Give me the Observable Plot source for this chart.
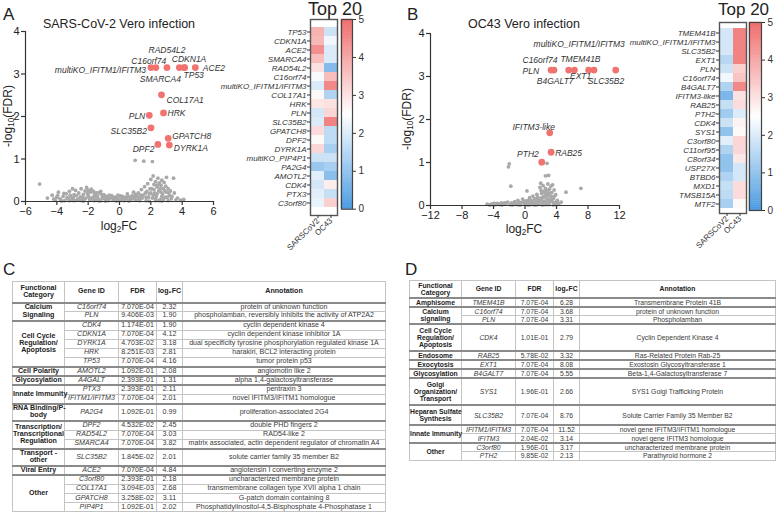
<!DOCTYPE html>
<html><head><meta charset="utf-8">
<script src="https://cdn.jsdelivr.net/npm/d3@7"></script>
<script src="https://cdn.jsdelivr.net/npm/@observablehq/plot@0.6"></script>
<style>
html,body{margin:0;padding:0;background:#fff}
body{width:778px;height:515px;position:relative;overflow:hidden;font-family:"Liberation Sans",Arial,sans-serif;color:#222}
.abs{position:absolute}
.panel{font-size:17px;line-height:1}
.title{font-size:12.5px;white-space:nowrap;transform:translateX(-50%);line-height:1}
.ylab{font-size:12px;white-space:nowrap;transform:translate(-50%,-50%) rotate(-90deg);line-height:1}
.xlab{font-size:12px;white-space:nowrap;transform:translate(-50%,-50%);line-height:1}
sub{font-size:0.68em;vertical-align:-0.3em;line-height:0}
.top20{font-size:18px;white-space:nowrap;line-height:1}
svg{overflow:visible}
.hm g[aria-label="y-axis tick label"] text{font-style:italic}
table.t{position:absolute;border-collapse:collapse;table-layout:fixed;color:#3a3a3a;border:1px solid #9a9a9a}
table.t td{border:1px solid #c4c4c4;padding:0;text-align:center;overflow:visible;white-space:pre}
table.t tr.hd td{font-weight:bold;color:#222;border-bottom:2px solid #8a8a8a}
table.t tr.grp td{border-top:2px solid #8a8a8a}
table.t td.cat{font-weight:bold;color:#222}
table.t td.gene{font-style:italic}
</style>
</head><body>
<script>
// ---------- Table C (SARS-CoV-2) ----------
const catC = ["Calcium\nSignaling","Calcium\nSignaling","Cell Cycle\nRegulation/\nApoptosis","Cell Cycle\nRegulation/\nApoptosis","Cell Cycle\nRegulation/\nApoptosis","Cell Cycle\nRegulation/\nApoptosis","Cell Cycle\nRegulation/\nApoptosis","Cell Polarity","Glycosylation","Innate Immunity","Innate Immunity","RNA Binding/P-\nbody","Transcription/\nTranscriptional\nRegulation","Transcription/\nTranscriptional\nRegulation","Transcription/\nTranscriptional\nRegulation","Transport -\nother","Viral Entry","Other","Other","Other","Other"];
const geneC = ["C16orf74","PLN","CDK4","CDKN1A","DYRK1A","HRK","TP53","AMOTL2","A4GALT","PTX3","IFITM1/IFITM3","PA2G4","DPF2","RAD54L2","SMARCA4","SLC35B2","ACE2","C3orf80","COL17A1","GPATCH8","PIP4P1"];
const fdrC = ["7.070E-04","9.406E-03","1.174E-01","7.070E-04","4.703E-02","8.251E-03","7.070E-04","1.092E-01","2.393E-01","2.393E-01","7.070E-04","1.092E-01","4.532E-02","7.070E-04","7.070E-04","1.845E-02","7.070E-04","2.393E-01","3.094E-03","3.258E-02","1.092E-01"];
const lfcC = ["2.32","1.90","1.90","4.12","3.18","2.81","4.16","2.08","1.31","2.11","2.01","0.99","2.45","3.03","3.82","2.01","4.84","2.18","2.68","3.11","2.02"];
const annC = ["protein of unknown function","phospholamban, reversibly inhibits the activity of ATP2A2","cyclin dependent kinase 4","cyclin dependent kinase inhibitor 1A","dual specificity tyrosine phosphorylation regulated kinase 1A","harakiri, BCL2 interacting protein","tumor protein p53","angiomotin like 2","alpha 1,4-galactosyltransferase","pentraxin 3","novel IFITM3/IFITM1 homologue","proliferation-associated 2G4","double PHD fingers 2","RAD54-like 2","matrix associated, actin dependent regulator of chromatin A4","solute carrier family 35 member B2","angiotensin I converting enzyme 2","uncharacterized membrane protein","transmembrane collagen type XVII alpha 1 chain","G-patch domain containing 8","Phosphatidylinositol-4,5-Bisphosphate 4-Phosphatase 1"];

// ---------- Table D (OC43) ----------
const catD = ["Amphisome","Calcium\nsignaling","Calcium\nsignaling","Cell Cycle\nRegulation/\nApoptosis","Endosome","Exocytosis","Glycosylation","Golgi\nOrganization/\nTransport","Heparan Sulfate\nSynthesis","Innate Immunity","Innate Immunity","Other","Other"];
const geneD = ["TMEM41B","C16orf74","PLN","CDK4","RAB25","EXT1","B4GALT7","SYS1","SLC35B2","IFITM1/IFITM3","IFITM3","C3orf80","PTH2"];
const fdrD = ["7.07E-04","7.07E-04","7.07E-04","1.01E-01","5.78E-02","7.07E-04","7.07E-04","1.96E-01","7.07E-04","7.07E-04","2.04E-02","1.96E-01","9.85E-02"];
const lfcD = ["6.28","3.68","3.31","2.79","3.32","8.08","5.55","2.66","8.76","11.52","3.14","3.17","2.13"];
const annD = ["Transmembrane Protein 41B","protein of unknown function","Phospholamban","Cyclin Dependent Kinase 4","Ras-Related Protein Rab-25","Exostosin Glycosyltransferase 1","Beta-1,4-Galactosyltransferase 7","SYS1 Golgi Trafficking Protein","Solute Carrier Family 35 Member B2","novel gene IFITM3/IFITM1 homologue","novel gene IFITM3 homologue","uncharacterized membrane protein","Parathyroid hormone 2"];

const headers = ["Functional\nCategory","Gene ID","FDR","log₂FC","Annotation"];
const volcanoAlias = {"IFITM1/IFITM3":"multiKO_IFITM1/IFITM3","IFITM3":"IFITM3-like"};

// ---------- Volcano background (non-significant genes) ----------
const backgroundA = [[-5.1,0.41],[-4.6,0.08],[-4.3,0.15],[-4.1,0.03],[-3.9,0.22],[-3.8,0.06],[-3.6,0.12],[-3.5,0.02],[-3.4,0.18],[-3.3,0.07],[-3.2,0.24],[-3.1,0.1],[-3.0,0.03],[-2.9,0.16],[-2.8,0.26],[-2.7,0.05],[-2.6,0.2],[-2.5,0.11],[-2.45,0.3],[-2.4,0.02],[-2.3,0.17],[-2.2,0.25],[-2.15,0.08],[-2.1,0.33],[-2.0,0.14],[-1.9,0.04],[-1.85,0.22],[-1.8,0.29],[-1.7,0.1],[-1.6,0.18],[-1.5,0.05],[-1.4,0.13],[-1.3,0.21],[-1.2,0.02],[-1.1,0.09],[-1.0,0.16],[-0.9,0.05],[-0.8,0.12],[-0.7,0.02],[-0.6,0.08],[-0.5,0.14],[-0.4,0.03],[-0.3,0.1],[-0.2,0.06],[-0.1,0.15],[0.0,0.02],[0.1,0.08],[0.2,0.12],[0.3,0.04],[0.4,0.1],[0.5,0.18],[0.6,0.03],[0.7,0.09],[0.8,0.14],[0.9,0.22],[1.0,0.05],[1.0,0.97],[1.1,0.12],[1.2,0.2],[1.3,0.07],[1.4,0.28],[1.5,0.15],[1.55,0.95],[1.6,0.35],[1.7,0.1],[1.75,0.24],[1.8,0.42],[1.9,0.18],[2.0,0.52],[2.05,0.3],[2.1,0.94],[2.1,0.08],[2.15,0.6],[2.2,0.4],[2.25,0.2],[2.3,0.47],[2.35,0.12],[2.4,0.34],[2.45,0.55],[2.5,0.25],[2.55,0.44],[2.6,0.05],[2.65,0.38],[2.7,0.5],[2.75,0.18],[2.8,0.3],[2.85,0.45],[2.9,0.1],[2.95,0.36],[3.0,0.22],[3.0,0.57],[3.1,0.3],[3.2,0.14],[3.3,0.06],[3.45,0.55],[3.5,0.2],[3.7,0.08],[3.9,0.03],[4.1,0.05],[-3.7,0.01],[-2.9,0.02],[-2.3,0.01],[-1.6,0.02],[-0.9,0.01],[-0.2,0.01],[0.6,0.01],[1.3,0.02],[1.9,0.01],[2.5,0.02],[-4.0,0.1],[-3.2,0.02],[-2.6,0.04],[-1.3,0.01],[0.3,0.02],[-3.0,0.3],[-2.0,0.27],[-1.2,0.24],[1.7,0.02],[2.3,0.02],[2.7,0.01],[3.1,0.02],
  [-4.2,0.06],[-3.95,0.14],[-3.75,0.04],[-3.55,0.19],[-3.35,0.09],[-3.15,0.15],[-2.95,0.09],[-2.75,0.14],[-2.55,0.07],[-2.35,0.1],[-2.25,0.05],[-2.05,0.2],[-1.95,0.1],[-1.75,0.06],[-1.65,0.24],[-1.55,0.12],[-1.45,0.2],[-1.35,0.06],[-1.15,0.17],[-1.05,0.08],[-0.95,0.13],[-0.75,0.07],[-0.65,0.15],[-0.45,0.09],[-0.35,0.05],[-0.15,0.11],[-0.05,0.04],[0.05,0.13],[0.15,0.05],[0.25,0.09],[0.45,0.06],[0.55,0.12],[0.75,0.05],[0.85,0.08],[0.95,0.12],[1.05,0.16],[1.15,0.04],[1.25,0.1],[1.35,0.15],[1.45,0.08],[1.65,0.2],[1.85,0.1],[1.95,0.3],[2.0,0.2],[2.15,0.15],[2.2,0.28],[2.3,0.07],[2.4,0.18],[2.5,0.4],[2.6,0.3],[2.7,0.12],[2.8,0.05],[2.9,0.25],[3.05,0.1],[3.15,0.2],[3.25,0.25],[3.35,0.12],[3.6,0.04],[2.35,0.38],[2.65,0.22]];
const backgroundB = [[-4.8,0.03],[-4.5,0.01],[-4.2,0.04],[-3.8,0.02],[-3.5,0.05],[-3.2,0.02],[-3.0,0.06],[-2.7,0.03],[-2.4,0.05],[-2.2,0.08],[-2.1,0.9],[-2.0,0.97],[-1.9,0.02],[-1.8,0.45],[-1.7,0.06],[-1.5,0.03],[-1.3,0.09],[-1.1,0.04],[-0.9,0.12],[-0.7,0.02],[-0.5,0.07],[-0.3,0.15],[-0.1,0.04],[0.0,0.1],[0.2,0.02],[0.25,0.34],[0.35,0.12],[0.5,0.06],[0.6,0.18],[0.8,0.03],[0.9,0.1],[1.0,0.22],[1.1,0.05],[1.3,0.14],[1.4,0.02],[1.5,0.26],[1.6,0.09],[1.7,0.17],[1.8,0.04],[1.9,0.42],[2.0,0.52],[2.0,0.12],[2.1,0.28],[2.2,0.06],[2.3,0.46],[2.35,0.2],[2.4,0.33],[2.5,0.1],[2.6,0.69],[2.6,0.4],[2.7,0.24],[2.8,0.98],[2.8,0.15],[2.9,0.5],[2.95,0.3],[3.0,0.7],[3.05,0.06],[3.1,0.38],[3.2,0.22],[3.3,0.45],[3.35,0.1],[3.4,0.3],[3.5,0.48],[3.6,0.16],[3.7,0.36],[3.8,0.05],[3.9,0.25],[4.1,0.12],[4.3,0.04],[4.6,0.08],[5.2,0.31],[7.1,0.4],[-4.0,0.01],[-2.9,0.01],[-1.6,0.01],[-0.6,0.01],[0.4,0.01],[1.2,0.01],[2.2,0.01],[3.0,0.02],[3.6,0.01],[4.0,0.02],[1.5,0.02],[2.6,0.02],[0.7,0.02],[-1.0,0.02],
  [-4.4,0.02],[-3.9,0.05],[-3.3,0.03],[-2.6,0.06],[-1.4,0.05],[-0.8,0.06],[-0.2,0.08],[0.1,0.05],[0.45,0.09],[0.7,0.12],[1.0,0.08],[1.2,0.16],[1.35,0.06],[1.6,0.2],[1.75,0.08],[1.9,0.15],[2.05,0.35],[2.15,0.18],[2.25,0.1],[2.45,0.2],[2.55,0.28],[2.65,0.08],[2.75,0.35],[2.85,0.22],[3.0,0.12],[3.15,0.28],[3.25,0.14],[3.45,0.2],[3.55,0.08],[3.75,0.22],[3.95,0.08],[4.2,0.06]];

// ---------- Heatmaps (Top 20) ----------
const viruses = ["SARSCoV2","OC43"];
const genesHA = ["TP53","CDKN1A","ACE2","SMARCA4","RAD54L2","C16orf74","multiKO_IFITM1/IFITM3","COL17A1","HRK","PLN","SLC35B2","GPATCH8","DPF2","DYRK1A","multiKO_PIP4P1","PA2G4","AMOTL2","CDK4","PTX3","C3orf80"];
const sarsHA = [3.8,3.7,4.4,3.6,3.0,2.4,2.0,2.6,2.9,1.9,2.0,3.1,2.6,3.2,1.8,1.1,2.1,1.9,2.1,2.2];
const oc43HA = [1.8,2.3,2.0,2.0,0.8,3.6,4.5,1.4,3.0,3.2,4.6,1.6,1.6,1.3,1.8,1.3,0.9,2.8,1.7,3.3];
const genesHB = ["TMEM41B","multiKO_IFITM1/IFITM3","SLC35B2","EXT1","PLN","C16orf74","B4GALT7","IFITM3-like","RAB25","PTH2","CDK4","SYS1","C3orf80","C11orf95","C8orf34","USP27X","BTBD6","MXD1","TMSB15A","MTF2"];
const sarsHB = [1.9,1.9,1.9,1.5,1.8,2.3,1.4,0.7,1.7,1.2,1.8,1.0,2.1,1.4,1.0,1.0,1.4,1.7,1.6,1.3];
const oc43HB = [4.6,4.6,4.6,4.6,3.3,3.5,4.5,3.0,3.1,2.0,2.7,2.6,3.2,3.2,2.9,1.9,1.9,3.1,3.1,2.6];
const colorTicks = [0,1,2,3,4,5];

// ---------- label placement (layout, not data): [dx, dy, anchor] ----------
const layoutA = {"multiKO_IFITM1/IFITM3":[-5,3,"end"],"C16orf74":[-7,-6,"middle"],"RAD54L2":[0,-17,"middle"],"CDKN1A":[5,-8.5,"middle"],"TP53":[9,8,"middle"],"SMARCA4":[-19,12,"middle"],"ACE2":[7.5,0.5,"start"],"COL17A1":[5,5,"start"],"HRK":[4,0.5,"start"],"PLN":[-4,1,"end"],"SLC35B2":[-4,3,"end"],"GPATCH8":[4,-2,"start"],"DPF2":[-3.5,4.5,"end"],"DYRK1A":[4.5,3,"start"]};
const layoutB = {"multiKO_IFITM1/IFITM3":[9,-26,"end"],"C16orf74":[-14,-9.5,"middle"],"TMEM41B":[6,-11,"middle"],"PLN":[-12,1,"end"],"B4GALT7":[-13.5,11.5,"middle"],"EXT1":[-8,6.5,"middle"],"SLC35B2":[12,11.5,"middle"],"IFITM3-like":[-16,-6,"middle"],"RAB25":[4,1.5,"start"],"PTH2":[-3,-7.5,"end"]};

const FONT = "Liberation Sans, Arial, sans-serif";
const RED = "#f07370";
const colorScale = {type:"linear", domain:[0,2.5,5], range:["#4a9be0","#ffffff","#ef6b6b"], interpolate:"rgb"};
const intFmt = d3.format("d");

function place(node, left, top, cls) {
  const d = document.createElement("div");
  d.className = "abs" + (cls ? " " + cls : "");
  d.style.left = left + "px"; d.style.top = top + "px";
  d.appendChild(node); document.body.appendChild(d); return d;
}
function html(s, left, top, cls) {
  const d = document.createElement("div");
  d.className = "abs " + cls; d.style.left = left + "px"; d.style.top = top + "px";
  d.innerHTML = s; document.body.appendChild(d); return d;
}

function volcano(bg, genes, fdrs, lfcs, thr, layout, xDomain, xTicks, m) {
  const hits = genes.map((g,i) => ({name: volcanoAlias[g] || g, x: +lfcs[i], f: +fdrs[i]}))
    .filter(d => d.f < thr).map(d => ({...d, y: -Math.log10(d.f)}));
  const pts = bg.map(([x,y]) => ({x,y}));
  return Plot.plot({
    width: 255, height: 235, marginLeft: m[0], marginRight: m[1], marginTop: m[2], marginBottom: m[3],
    x: {domain: xDomain, label: null}, y: {domain: [0,4], label: null},
    style: {fontFamily: FONT, fontSize: "11px", color: "#222", background: "transparent", overflow: "visible"},
    marks: [
      Plot.dot(pts, {x:"x", y:"y", r:1.9, fill:"#a9a9a9"}),
      Plot.dot(hits, {x:"x", y:"y", r:3.4, fill:RED}),
      ...hits.map(h => { const L = layout[h.name] || [4,0,"start"];
        return Plot.text([h], {x:"x", y:"y", text:"name", dx:L[0], dy:L[1], textAnchor:L[2], fontStyle:"italic", fontSize:8.5, fill:"#333"}); }),
      Plot.ruleY([0], {stroke:"#333", strokeWidth:1.2}),
      Plot.ruleX([xDomain[0]], {stroke:"#333", strokeWidth:1.2}),
      Plot.axisX({ticks: xTicks, tickFormat: intFmt, tickSize: 4, tickPadding: 2, stroke:"#333", strokeWidth:1.2, label:null}),
      Plot.axisY({ticks: [0,1,2,3,4], tickFormat: intFmt, tickSize: 4, tickPadding: 2, stroke:"#333", strokeWidth:1.2, label:null})
    ]
  });
}

function heatmap(genes, sars, oc43, m, w) {
  const data = genes.flatMap((g,i) => [{gene:g, virus:viruses[0], v:sars[i]}, {gene:g, virus:viruses[1], v:oc43[i]}]);
  return Plot.plot({
    width: w, height: 260, marginLeft: m[0], marginRight: m[1], marginTop: m[2], marginBottom: m[3],
    x: {domain: viruses, label: null, padding: 0}, y: {domain: genes, label: null, padding: 0},
    color: colorScale,
    style: {fontFamily: FONT, fontSize: "8px", color: "#333", background: "transparent", overflow: "visible"},
    marks: [
      Plot.cell(data, {x:"virus", y:"gene", fill:"v"}),
      Plot.frame({stroke:"#555", strokeWidth:1.4}),
      Plot.axisY({tickSize:3, tickPadding:1, fontStyle:"italic", fontSize:8, label:null}),
      Plot.axisX({tickSize:3, tickPadding:1, tickRotate:-45, fontSize:8, label:null})
    ]
  });
}

function colorbar(m, w, h) {
  const steps = d3.range(0, 5, 0.05);
  return Plot.plot({
    width: w, height: h, marginLeft: m[0], marginRight: m[1], marginTop: m[2], marginBottom: m[3],
    x: {axis: null, domain: [0,1]}, y: {domain: [0,5], label: null},
    color: colorScale,
    style: {fontFamily: FONT, fontSize: "10px", color: "#333", background: "transparent", overflow: "visible"},
    marks: [
      Plot.rect(steps, {x1: () => 0, x2: () => 1, y1: d => d, y2: d => d + 0.05, fill: d => d + 0.025, stroke: d => d + 0.025, strokeWidth: 0.5}),
      Plot.frame({stroke:"#444", strokeWidth:1.2}),
      Plot.axisY({anchor:"right", ticks: colorTicks, tickFormat: intFmt, tickSize:3, tickPadding:3, label:null})
    ]
  });
}

function table(cats, genes, fdr, lfc, ann, left, top, widths, fontSize, rowH, headH, lineH, catPad) {
  const t = document.createElement("table");
  t.className = "t"; t.style.left = left + "px"; t.style.top = top + "px";
  t.style.width = d3.sum(widths) + "px"; t.style.fontSize = fontSize + "px";
  const cg = document.createElement("colgroup");
  widths.forEach(w => { const c = document.createElement("col"); c.style.width = w + "px"; cg.appendChild(c); });
  t.appendChild(cg);
  const hr = document.createElement("tr"); hr.className = "hd"; hr.style.height = headH + "px";
  headers.forEach(h => { const td = document.createElement("td"); td.textContent = h; td.style.lineHeight = lineH + "px"; hr.appendChild(td); });
  t.appendChild(hr);
  genes.forEach((g, i) => {
    const tr = document.createElement("tr"); tr.style.height = rowH + "px";
    if (i === 0 || cats[i] !== cats[i-1]) {
      tr.className = "grp";
      let n = 1; while (i + n < genes.length && cats[i+n] === cats[i]) n++;
      const td = document.createElement("td"); td.className = "cat"; td.rowSpan = n;
      td.textContent = cats[i]; td.style.lineHeight = lineH + "px";
      if (cats[i].split("\n").length > n) td.style.padding = catPad + "px 0";
      tr.appendChild(td);
    }
    [[g,"gene"],[fdr[i],""],[lfc[i],""],[ann[i],""]].forEach(([s,c]) => {
      const td = document.createElement("td"); td.textContent = s; if (c) td.className = c;
      td.style.lineHeight = lineH + "px"; tr.appendChild(td);
    });
    t.appendChild(tr);
  });
  document.body.appendChild(t);
}

// ----- Panel A -----
html("A", 3, 6, "panel");
html("SARS-CoV-2 Vero infection", 119, 18, "title");
place(volcano(backgroundA, geneC, fdrC, lfcC, 0.05, layoutA, [-6,6], [-6,-4,-2,0,2,4,6], [25,42,31,34]), 0, 0);
html("-log<sub>10</sub>(FDR)", 8, 116, "ylab");
html("log<sub>2</sub>FC", 119, 226, "xlab");
html("Top 20", 308, 0, "top20");
place(heatmap(genesHA, sarsHA, oc43HA, [130,3,19,45], 160), 180, 0, "hm");
place(colorbar([5,24,19,21.3], 40, 230), 336, 0);

// ----- Panel B -----
html("B", 407, 6, "panel");
html("OC43 Vero infection", 524, 18, "title");
place(volcano(backgroundB, geneD, fdrD, lfcD, 0.1, layoutB, [-12,12], [-12,-8,-4,0,4,8,12], [45,21,33,30]), 385, 0);
html("-log<sub>10</sub>(FDR)", 407, 119, "ylab");
html("log<sub>2</sub>FC", 524, 229, "xlab");
html("Top 20", 718, 1, "top20").style.fontSize = "17px";
place(heatmap(genesHB, sarsHB, oc43HB, [139,4,22,47], 170), 580, 0, "hm");
place(colorbar([5,17,22,20], 34, 230), 744, 0);

// ----- Panels C & D (tables) -----
html("C", 3, 261, "panel");
html("D", 405, 261, "panel");
table(catC, geneC, fdrC, lfcC, annC, 12, 281, [52,54,38,26,203], 7.1, 9.2, 21, 7.2, 0.5);
table(catD, geneD, fdrD, lfcD, annD, 409, 280, [52,54,38,26,196], 6.8, 8.8, 17, 7.0, 2);
</script>
</body></html>
